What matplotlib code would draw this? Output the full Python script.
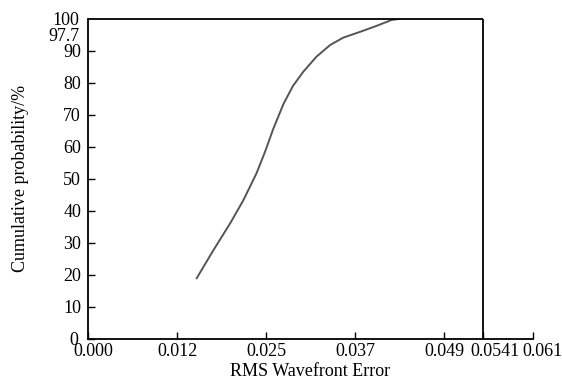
import matplotlib.pyplot as plt
from matplotlib.transforms import ScaledTranslation

plt.rcParams['font.family'] = ['Liberation Serif', 'DejaVu Serif']

# curve
rms_error = [0.0149, 0.0172, 0.0195, 0.0213, 0.0231, 0.0243, 0.0254, 0.0268,
             0.0281, 0.0295, 0.0313, 0.0332, 0.0350, 0.0373, 0.0396, 0.0416,
             0.0428]
cum_prob = [18.9, 27.7, 36.1, 43.3, 51.7, 58.6, 65.6, 73.4,
            79.0, 83.4, 88.1, 91.8, 94.1, 95.9, 97.8, 99.6,
            100.0]

x_ticks = [0.0, 0.0122, 0.0244, 0.0366, 0.0488, 0.0541, 0.061]
x_labels = ['0.000', '0.012', '0.025', '0.037', '0.049', '0.0541', '0.061']
y_ticks = [0, 10, 20, 30, 40, 50, 60, 70, 80, 90]
box_right = 0.0541


def nudge(label, dx, dy):
    # shift a tick label by dx, dy points
    label.set_transform(label.get_transform() +
                        ScaledTranslation(dx / 72, dy / 72, fig.dpi_scale_trans))


fig = plt.figure(figsize=(5.62, 3.82), dpi=100)
ax = fig.add_axes([0.1566, 0.1134, 0.7918, 0.8376])

ax.plot(rms_error, cum_prob, color='#555555', lw=1.4)

ax.set_xlim(0, 0.061)
ax.set_ylim(0, 100)

# box closes at 0.0541, bottom axis runs on to 0.061
ax.spines['top'].set_visible(False)
ax.spines['right'].set_visible(False)
for s in ['left', 'bottom']:
    ax.spines[s].set_linewidth(1.3)
ax.hlines(100, 0, box_right, color='black', lw=1.3, clip_on=False)
ax.vlines(box_right, 0, 100, color='black', lw=1.3, clip_on=False)

ax.set_xticks(x_ticks)
ax.set_xticklabels(x_labels)
ax.set_yticks(y_ticks)
ax.set_yticks([97.7, 100], minor=True)
ax.set_yticklabels(['97.7', '100'], minor=True)
ax.tick_params(axis='both', which='major', direction='in', length=5,
               width=1.0, labelsize=13, pad=3)
ax.tick_params(axis='y', which='major', pad=5)
ax.tick_params(axis='y', which='minor', length=0, labelsize=13, pad=6)

# label placement as in the original
nudge(ax.get_yticklabels(minor=True)[0], 0, -6)
nudge(ax.get_yticklabels()[0], -2, 0)
xl = ax.get_xticklabels()
nudge(xl[0], 4, 0)
nudge(xl[5], 9, 0)
nudge(xl[6], 7, 0)

ax.set_xlabel('RMS Wavefront Error', fontsize=13, labelpad=2)
ax.set_ylabel('Cumulative probability/%', fontsize=13, labelpad=14)

fig.savefig('out.png', dpi=100)
